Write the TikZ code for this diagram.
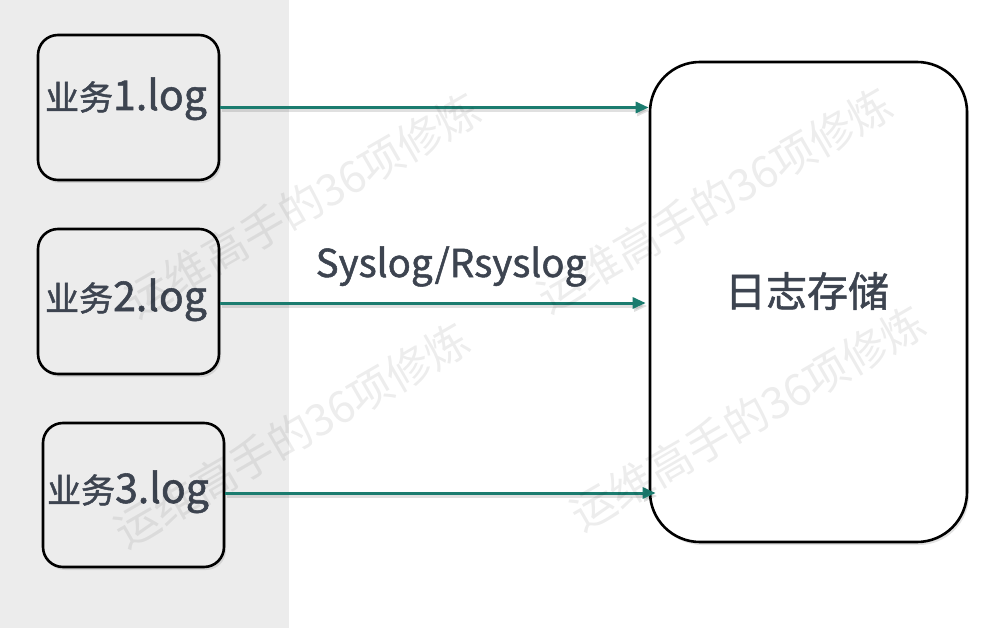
\documentclass[tikz,border=0pt]{standalone}
\usepackage{fontspec}
\setmainfont{Noto Sans CJK SC}[BoldFont={Noto Sans CJK SC}, BoldFeatures={FakeBold=1.3}]
\usetikzlibrary{shadows,arrows.meta}
\definecolor{bggray}{HTML}{ECECEC}
\definecolor{txtcol}{HTML}{3D4450}
\definecolor{arrowteal}{HTML}{1B7C6F}
\newcommand{\cjksize}{\fontsize{34}{34}\selectfont}
\newcommand{\latsize}{\fontsize{41}{41}\selectfont}
\tikzset{
  logbox/.style={draw=black, line width=2.6pt, rounded corners=20pt, fill=bggray,
    minimum width=181pt, minimum height=145pt, inner sep=0pt,
    drop shadow={shadow xshift=2pt, shadow yshift=-3pt, opacity=0.22}},
  storebox/.style={draw=black, line width=2.6pt, rounded corners=50pt, fill=white,
    minimum width=317pt, minimum height=480pt, inner sep=0pt,
    drop shadow={shadow xshift=2pt, shadow yshift=-3pt, opacity=0.22}},
  lbl/.style={text=txtcol, inner sep=0pt, anchor=base, font=\bfseries},
  flow/.style={draw=arrowteal, line width=3pt, -{Triangle[length=13pt,width=11pt]},
    preaction={draw=black, opacity=0.12, line width=3pt, transform canvas={xshift=1.5pt, yshift=-3pt}}},
  wm/.style={text=black, text opacity=0.07, inner sep=0pt, rotate=30, font=\fontsize{44}{44}\selectfont}
}
\begin{document}
\begin{tikzpicture}[x=1pt,y=-1pt]
\useasboundingbox (0,0) rectangle (981,628);
\fill[bggray] (0,0) rectangle (289,628);

\node[logbox] (b1) at (128.5,107.5) {};
\node[logbox] (b2) at (128.5,301.5) {};
\node[logbox, minimum height=144pt] (b3) at (133.5,495) {};
\node[storebox] (store) at (808.5,302) {};

\node[lbl] (t1) at (126,110) {\cjksize 业务\latsize 1.log};
\node[lbl] (t2) at (126,311) {\cjksize 业务\latsize 2.log};
\node[lbl] (t3) at (128,503) {\cjksize 业务\latsize 3.log};
\node[text=txtcol, inner sep=0pt, font=\bfseries\fontsize{41}{41}\selectfont] (st) at (807,291) {日志存储};
\node[lbl, font=\bfseries\fontsize{38.5}{38.5}\selectfont] (proto) at (451,277) {Syslog/Rsyslog};

\draw[flow] (b1.east) -- (b1.east -| store.west);
\draw[flow] ([yshift=-1.5pt]b2.east) -- ([yshift=-1.5pt,xshift=-3pt]b2.east -| store.west);
\draw[flow] ([yshift=2pt]b3.east) -- ([yshift=2pt,xshift=7pt]b3.east -| store.west);

\node[wm] (wm1) at (303,205) {运维高手的36项修炼};
\node[wm] (wm2) at (292,435) {运维高手的36项修炼};
\node[wm] (wm3) at (715,200) {运维高手的36项修炼};
\node[wm] (wm4) at (748,418) {运维高手的36项修炼};
\end{tikzpicture}
\end{document}
